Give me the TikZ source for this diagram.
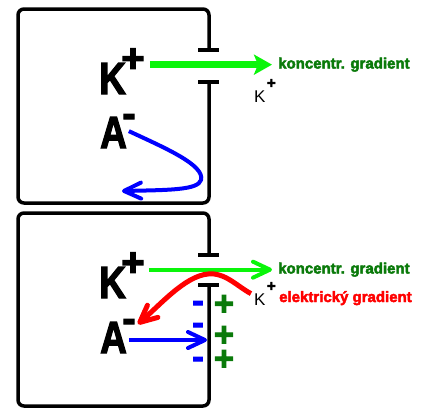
\documentclass[tikz,border=0pt]{standalone}
\usepackage{fontspec}
\setmainfont{Liberation Sans}[BoldFeatures={FakeBold=3}]
\usetikzlibrary{arrows.meta}

\definecolor{brightgreen}{RGB}{10,245,10}
\definecolor{textgreen}{RGB}{10,122,10}

\newcommand{\bigion}[3]{\scalebox{0.82}[1]{\fontsize{45}{45}\selectfont\bfseries #1}\kern-4.5pt\raisebox{#3}{\fontsize{40}{40}\selectfont\bfseries #2}}
\newcommand{\smallk}{K\kern1.5pt\raisebox{14pt}{\fontsize{15}{15}\selectfont\bfseries +}}
\newcommand{\gradtext}[1]{{\fontsize{15}{15}\selectfont\bfseries #1}}

\begin{document}
\begin{tikzpicture}[x=1pt, y=-1pt,
  every node/.style={inner sep=0pt, anchor=base west},
  wall/.style={line width=3.5pt, rounded corners=6pt},
  tick/.style={line width=4pt},
  charge/.style={anchor=base, font=\fontsize{34}{34}\selectfont\bfseries},
  smallion/.style={font=\fontsize{17}{17}\selectfont},
  barb/.style={-{Straight Barb[length=17pt,width=16pt,round]}}]
  \useasboundingbox (0,0) rectangle (422,408);
  % Top cell: only K+ leaves
  \begin{scope}
    \draw[wall] (209,50) -- (209,9) -- (18,9) -- (18,203) -- (209,203) -- (209,82);
    \draw[tick] (198,50) -- (219,50);
    \draw[tick] (198,82) -- (219,82);
    \node (kTop) at (99,94) {\bigion{K}{+}{22pt}};
    \node (aTop) at (100,148) {\bigion{A}{-}{21pt}};
    \node[smallion] (kOutTop) at (254,102) {\smallk};
    \node[text=textgreen] (gradTop) at (278,68.5) {\gradtext{koncentr. gradient}};
    \coordinate (aTopEnd) at (122,191);
    \draw[brightgreen, line width=7pt, -{Stealth[length=18pt,width=20pt,inset=4pt]}]
      ([xshift=5pt]kTop.east |- gradTop.west) -- ([xshift=-6pt]gradTop.west);
    \draw[blue, line width=4pt, barb] ([xshift=-7pt]aTop.east)
      .. controls (165,148) and (205,165) .. (201,180)
      .. controls (198,190) and (170,190) .. (aTopEnd);
  \end{scope}
  % Bottom cell: charges on the membrane
  \begin{scope}
    \draw[wall] (209,255) -- (209,213) -- (18,213) -- (18,406) -- (209,406) -- (209,285);
    \draw[tick] (198,255) -- (219,255);
    \draw[tick] (198,285) -- (219,285);
    \node (kBot) at (99,298) {\bigion{K}{+}{22pt}};
    \node (aBot) at (100,353) {\bigion{A}{-}{21pt}};
    \node[smallion] (kOutBot) at (254,305) {\smallk};
    \node[text=textgreen] (gradBot) at (278,273.5) {\gradtext{koncentr. gradient}};
    \node[text=red] (elGrad) at (279,302) {\gradtext{elektrický gradient}};
    \coordinate (memA) at (207,340);
    \foreach \y in {303,325,359} {
      \node[charge, text=blue] (minus\y) at (198,\y+9) {-};
    }
    \foreach \y in {303,334,358} {
      \node[charge, text=textgreen] (plus\y) at (224,\y+12) {+};
    }
    \draw[brightgreen, line width=4pt, barb]
      ([xshift=4pt]kBot.east |- gradBot.west) -- ([xshift=-6pt]gradBot.west);
    \draw[red, line width=5pt, barb] ([xshift=-3pt]kOutBot.west)
      .. controls (238,287) and (225,272) .. (208,274)
      .. controls (185,276) and (160,305) .. ([shift={(2pt,-5pt)}]aBot.north east);
    \draw[blue, line width=4pt, barb] ([xshift=-7pt]aBot.east |- memA) -- (memA);
  \end{scope}
\end{tikzpicture}
\end{document}
